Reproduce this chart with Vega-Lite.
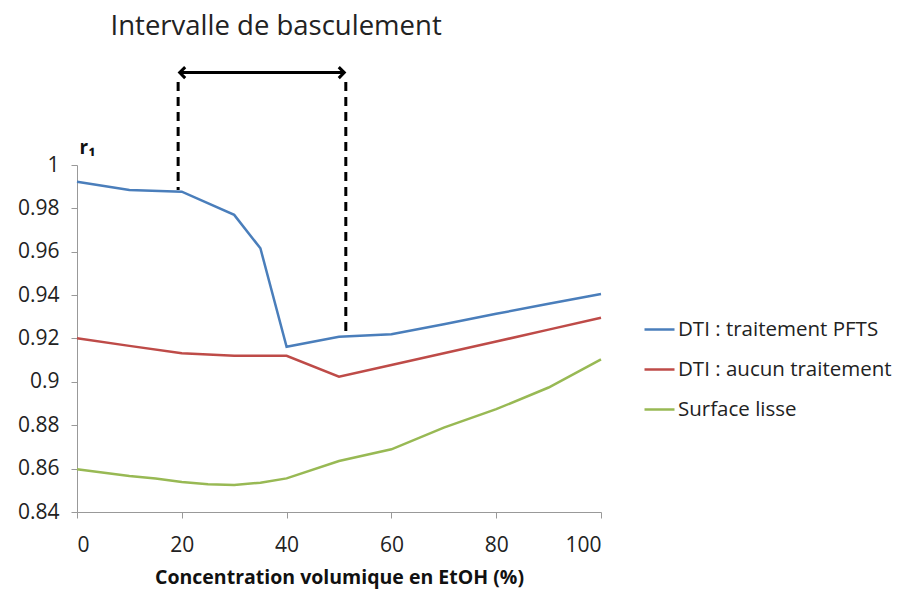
{
  "$schema": "https://vega.github.io/schema/vega-lite/v6.json",
  "autosize": {"type": "none"},
  "width": 524,
  "height": 347,
  "padding": {"left": 77, "top": 165, "right": 308, "bottom": 78},
  "background": "white",
  "config": {
    "view": {"stroke": null},
    "font": "Open Sans"
  },
  "datasets": {
    "series": [
      {"c": 0, "r": 0.9923, "s": "DTI : traitement PFTS"},
      {"c": 10, "r": 0.9885, "s": "DTI : traitement PFTS"},
      {"c": 20, "r": 0.9877, "s": "DTI : traitement PFTS"},
      {"c": 30, "r": 0.977, "s": "DTI : traitement PFTS"},
      {"c": 35, "r": 0.9616, "s": "DTI : traitement PFTS"},
      {"c": 40, "r": 0.9162, "s": "DTI : traitement PFTS"},
      {"c": 50, "r": 0.9208, "s": "DTI : traitement PFTS"},
      {"c": 60, "r": 0.922, "s": "DTI : traitement PFTS"},
      {"c": 70, "r": 0.9266, "s": "DTI : traitement PFTS"},
      {"c": 80, "r": 0.9314, "s": "DTI : traitement PFTS"},
      {"c": 90, "r": 0.936, "s": "DTI : traitement PFTS"},
      {"c": 100, "r": 0.9405, "s": "DTI : traitement PFTS"},
      {"c": 0, "r": 0.9201, "s": "DTI : aucun traitement"},
      {"c": 10, "r": 0.9166, "s": "DTI : aucun traitement"},
      {"c": 20, "r": 0.9132, "s": "DTI : aucun traitement"},
      {"c": 30, "r": 0.912, "s": "DTI : aucun traitement"},
      {"c": 40, "r": 0.912, "s": "DTI : aucun traitement"},
      {"c": 50, "r": 0.9024, "s": "DTI : aucun traitement"},
      {"c": 60, "r": 0.9078, "s": "DTI : aucun traitement"},
      {"c": 70, "r": 0.9132, "s": "DTI : aucun traitement"},
      {"c": 80, "r": 0.9186, "s": "DTI : aucun traitement"},
      {"c": 90, "r": 0.9241, "s": "DTI : aucun traitement"},
      {"c": 100, "r": 0.9296, "s": "DTI : aucun traitement"},
      {"c": 0, "r": 0.8597, "s": "Surface lisse"},
      {"c": 10, "r": 0.8566, "s": "Surface lisse"},
      {"c": 15, "r": 0.8554, "s": "Surface lisse"},
      {"c": 20, "r": 0.8538, "s": "Surface lisse"},
      {"c": 25, "r": 0.8528, "s": "Surface lisse"},
      {"c": 30, "r": 0.8525, "s": "Surface lisse"},
      {"c": 35, "r": 0.8535, "s": "Surface lisse"},
      {"c": 40, "r": 0.8555, "s": "Surface lisse"},
      {"c": 50, "r": 0.8635, "s": "Surface lisse"},
      {"c": 60, "r": 0.8689, "s": "Surface lisse"},
      {"c": 70, "r": 0.8789, "s": "Surface lisse"},
      {"c": 80, "r": 0.8874, "s": "Surface lisse"},
      {"c": 90, "r": 0.8974, "s": "Surface lisse"},
      {"c": 100, "r": 0.9104, "s": "Surface lisse"}
    ],
    "dashes": [
      {"c": 19.3, "top": 1.0383, "bottom": 0.9885},
      {"c": 51.3, "top": 1.0383, "bottom": 0.9225}
    ],
    "arrow": [
      {"c1": 19.6, "c2": 51.0, "r": 1.0426}
    ],
    "heads": [
      {"c": 19.6, "r": 1.0426, "dir": "left"},
      {"c": 51.0, "r": 1.0426, "dir": "right"}
    ],
    "label": [
      {"c": 38, "r": 1.0636, "t": "Intervalle de basculement"}
    ]
  },
  "layer": [
    {
      "data": {"name": "series"},
      "mark": {"type": "line", "strokeWidth": 2.5, "clip": false},
      "encoding": {
        "x": {
          "field": "c", "type": "quantitative",
          "scale": {"domain": [0, 100], "nice": false},
          "axis": {
            "values": [0, 20, 40, 60, 80, 100],
            "title": "Concentration volumique en EtOH (%)",
            "titleFontSize": 19.5, "titleFontWeight": "bold", "titleColor": "#111",
            "titlePadding": 13,
            "labelFontSize": 21, "labelColor": "#222", "labelPadding": 16,
            "domainColor": "#999", "tickColor": "#999", "tickSize": 6,
            "grid": false
          }
        },
        "y": {
          "field": "r", "type": "quantitative",
          "scale": {"domain": [0.84, 1], "nice": false, "zero": false},
          "axis": {
            "values": [0.84, 0.86, 0.88, 0.9, 0.92, 0.94, 0.96, 0.98, 1],
            "format": "~g",
            "title": "r₁",
            "titleAngle": 0, "titleX": 10, "titleY": -8, "titleAlign": "center",
            "titleBaseline": "bottom",
            "titleFontSize": 19, "titleFontWeight": "bold", "titleColor": "#111",
            "labelFontSize": 21, "labelColor": "#222", "labelPadding": 12,
            "domainColor": "#999", "tickColor": "#999", "tickSize": 6,
            "grid": false
          }
        },
        "color": {
          "field": "s", "type": "nominal",
          "scale": {
            "domain": ["DTI : traitement PFTS", "DTI : aucun traitement", "Surface lisse"],
            "range": ["#4a7ebb", "#be4b48", "#98b954"]
          },
          "legend": {
            "title": null,
            "orient": "none",
            "legendX": 566,
            "legendY": 148,
            "symbolType": "stroke",
            "symbolSize": 900,
            "symbolStrokeWidth": 2.5,
            "labelFontSize": 20.5,
            "labelColor": "#222",
            "labelOffset": 2,
            "labelLimit": 320,
            "rowPadding": 13
          }
        }
      }
    },
    {
      "data": {"name": "dashes"},
      "mark": {"type": "rule", "strokeWidth": 3, "strokeDash": [9, 6], "color": "black", "clip": false},
      "encoding": {
        "x": {"field": "c", "type": "quantitative"},
        "y": {"field": "top", "type": "quantitative"},
        "y2": {"field": "bottom"}
      }
    },
    {
      "data": {"name": "arrow"},
      "mark": {"type": "rule", "strokeWidth": 3, "color": "black", "clip": false},
      "encoding": {
        "x": {"field": "c1", "type": "quantitative"},
        "x2": {"field": "c2"},
        "y": {"field": "r", "type": "quantitative"}
      }
    },
    {
      "data": {"name": "heads"},
      "transform": [{"filter": "datum.dir == 'left'"}],
      "mark": {"type": "point", "shape": "M 1 -1 L 0 0 L 1 1", "filled": false, "strokeWidth": 3, "size": 120, "color": "black", "opacity": 1, "clip": false},
      "encoding": {
        "x": {"field": "c", "type": "quantitative"},
        "y": {"field": "r", "type": "quantitative"}
      }
    },
    {
      "data": {"name": "heads"},
      "transform": [{"filter": "datum.dir == 'right'"}],
      "mark": {"type": "point", "shape": "M -1 -1 L 0 0 L -1 1", "filled": false, "strokeWidth": 3, "size": 120, "color": "black", "opacity": 1, "clip": false},
      "encoding": {
        "x": {"field": "c", "type": "quantitative"},
        "y": {"field": "r", "type": "quantitative"}
      }
    },
    {
      "data": {"name": "label"},
      "mark": {"type": "text", "fontSize": 27.5, "color": "#222", "align": "center", "baseline": "middle", "clip": false},
      "encoding": {
        "x": {"field": "c", "type": "quantitative"},
        "y": {"field": "r", "type": "quantitative"},
        "text": {"field": "t"}
      }
    }
  ]
}
